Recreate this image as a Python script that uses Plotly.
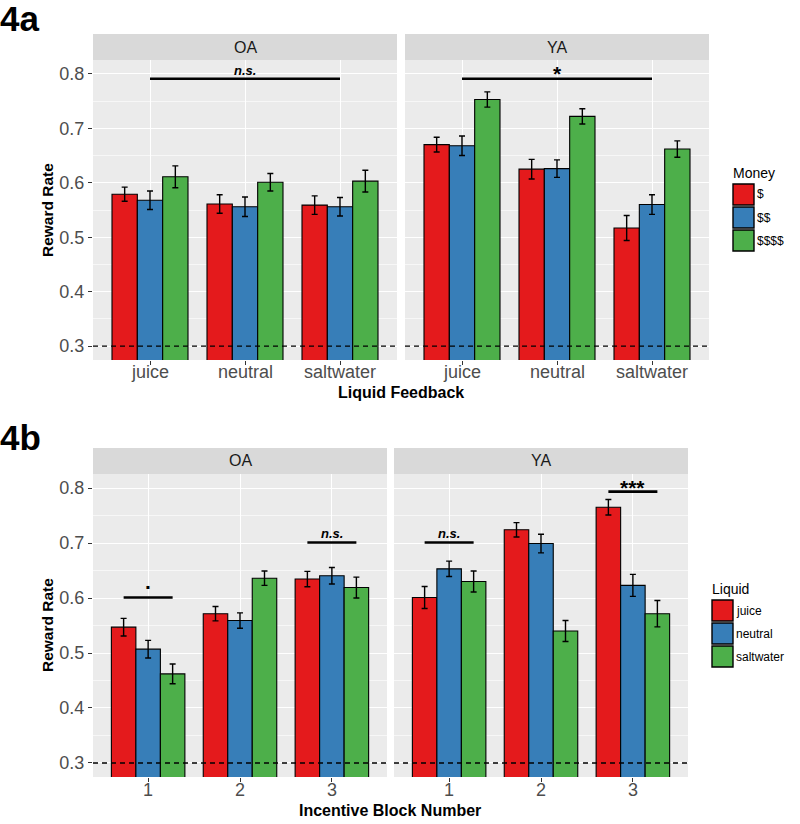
import plotly.graph_objects as go

# ---------------- data ----------------
liquids = ["juice", "neutral", "saltwater"]
money_levels = ["$", "$$", "$$$$"]
blocks = ["1", "2", "3"]
groups = ["OA", "YA"]

# 4a: reward rate by liquid feedback (x) and money (series)
a_OA_mean = {"$": [0.579, 0.561, 0.559], "$$": [0.568, 0.556, 0.556], "$$$$": [0.611, 0.601, 0.603]}
a_OA_se = {"$": [0.013, 0.017, 0.017], "$$": [0.017, 0.018, 0.017], "$$$$": [0.020, 0.016, 0.020]}
a_YA_mean = {"$": [0.670, 0.625, 0.517], "$$": [0.668, 0.626, 0.560], "$$$$": [0.753, 0.722, 0.662]}
a_YA_se = {"$": [0.0135, 0.018, 0.023], "$$": [0.018, 0.016, 0.018], "$$$$": [0.014, 0.014, 0.015]}

# 4b: reward rate by incentive block (x) and liquid (series)
b_OA_mean = {"juice": [0.547, 0.5715, 0.6345], "neutral": [0.507, 0.559, 0.6406], "saltwater": [0.462, 0.636, 0.619]}
b_OA_se = {"juice": [0.016, 0.013, 0.014], "neutral": [0.016, 0.014, 0.015], "saltwater": [0.018, 0.013, 0.019]}
b_YA_mean = {"juice": [0.601, 0.724, 0.765], "neutral": [0.653, 0.699, 0.623], "saltwater": [0.630, 0.540, 0.5715]}
b_YA_se = {"juice": [0.020, 0.013, 0.014], "neutral": [0.014, 0.017, 0.020], "saltwater": [0.019, 0.019, 0.024]}

chance_level = 0.3
y_ticks = [0.3, 0.4, 0.5, 0.6, 0.7, 0.8]

# significance brackets 4a: (group, x-from, x-to, line height, label, label height)
sig_a = [("OA", 0, 2, 0.791, "n.s.", 0.8055), ("YA", 0, 2, 0.791, "*", 0.800)]
# significance brackets 4b: (group, block index, line height, label, label height)
sig_b = [("OA", 0, 0.601, ".", 0.630), ("OA", 2, 0.701, "n.s.", 0.717),
         ("YA", 0, 0.701, "n.s.", 0.717), ("YA", 2, 0.7935, "***", 0.801)]

colors = ["#E41A1C", "#377EB8", "#4DAF4A"]

# ---------------- layout helpers ----------------
W, H = 800, 824
FONT = "Liberation Sans, Arial, Helvetica, sans-serif"


def px_x(p):
    return p / W


def px_y(p):
    return 1 - p / H


panels = {
    # name: (x0, x1, ytop, ybottom, striptop, ticklabel centre y)
    "aOA": (93, 397, 60, 360, 34, 372),
    "aYA": (405, 709, 60, 360, 34, 372),
    "bOA": (93, 387, 474, 777, 448, 790),
    "bYA": (394, 688, 474, 777, 448, 790),
}
axis_ids = {"aOA": "", "aYA": "2", "bOA": "3", "bYA": "4"}

fig = go.Figure()
layout = dict(
    width=W, height=H, margin=dict(l=0, r=0, t=0, b=0),
    paper_bgcolor="white", plot_bgcolor="#EBEBEB",
    barmode="group", bargap=0.2, bargroupgap=0,
    showlegend=False, font=dict(family=FONT, color="#4D4D4D"),
)
shapes = []
annotations = []

datasets = {
    "aOA": (liquids, money_levels, a_OA_mean, a_OA_se),
    "aYA": (liquids, money_levels, a_YA_mean, a_YA_se),
    "bOA": (blocks, liquids, b_OA_mean, b_OA_se),
    "bYA": (blocks, liquids, b_YA_mean, b_YA_se),
}

for name, (x0, x1, yt, yb, st, tly) in panels.items():
    aid = axis_ids[name]
    xa, ya = "x" + aid, "y" + aid
    cats, series, means, ses = datasets[name]
    for i, s in enumerate(series):
        fig.add_trace(go.Bar(
            x=cats, y=means[s], name=s, xaxis=xa, yaxis=ya,
            marker=dict(color=colors[i], line=dict(color="black", width=1.1)),
            error_y=dict(type="data", array=ses[s], color="black", thickness=1.4, width=3),
        ))
    left = name.endswith("OA")
    layout["xaxis" + aid] = dict(
        domain=[px_x(x0), px_x(x1)], anchor=ya, type="category",
        range=[-0.6, 2.6], showgrid=True, gridcolor="white", gridwidth=1.2,
        ticks="outside", ticklen=4, tickcolor="#333333", tickwidth=1,
        showticklabels=False, showline=False, zeroline=False,
    )
    # category tick labels
    for k, c in enumerate(cats):
        annotations.append(dict(text=c, xref=xa, yref="paper", x=k, y=px_y(tly),
                                xanchor="center", yanchor="middle", showarrow=False,
                                font=dict(size=18, color="#4D4D4D", family=FONT)))
    layout["yaxis" + aid] = dict(
        domain=[px_y(yb), px_y(yt)], anchor=xa, range=[0.2745, 0.8255],
        tickvals=y_ticks, ticktext=[f"{v:.1f}" for v in y_ticks],
        showticklabels=left, ticks="outside" if left else "", ticklen=4,
        tickcolor="#333333", tickwidth=1,
        tickfont=dict(size=18, color="#4D4D4D", family=FONT),
        showgrid=True, gridcolor="white", gridwidth=1.2, zeroline=False, showline=False,
        minor=dict(tickvals=[0.35, 0.45, 0.55, 0.65, 0.75], showgrid=True, gridcolor="#F7F7F7", gridwidth=0.6),
    )
    # strip
    shapes.append(dict(type="rect", xref="paper", yref="paper",
                       x0=px_x(x0), x1=px_x(x1), y0=px_y(yt), y1=px_y(st),
                       fillcolor="#D9D9D9", line=dict(width=0), layer="below"))
    annotations.append(dict(text=name[1:], xref="paper", yref="paper",
                            x=(px_x(x0) + px_x(x1)) / 2, y=(px_y(yt) + px_y(st)) / 2,
                            showarrow=False, font=dict(size=16, color="#1A1A1A", family=FONT),
                            xanchor="center", yanchor="middle"))
    # chance line
    shapes.append(dict(type="line", xref=xa + " domain", yref=ya, x0=0, x1=1,
                       y0=chance_level, y1=chance_level,
                       line=dict(color="black", width=1.4, dash="5px,4px")))


def sig_text(lab):
    if lab.startswith("n"):
        return "<b><i>%s</i></b>" % lab, 13
    return "<b>%s</b>" % lab, 21


# significance brackets 4a
for g, i0, i1, h, lab, th in sig_a:
    aid = axis_ids["a" + g]
    shapes.append(dict(type="line", xref="x" + aid, yref="y" + aid, x0=i0, x1=i1, y0=h, y1=h,
                       line=dict(color="black", width=2.6)))
    txt, fs = sig_text(lab)
    annotations.append(dict(text=txt, xref="x" + aid, yref="y" + aid, x=(i0 + i1) / 2, y=th,
                            showarrow=False, yanchor="middle",
                            font=dict(size=fs, color="black", family=FONT)))

# significance brackets 4b (from first to last bar centre within a block)
half = 0.8 / 3
for g, i, h, lab, th in sig_b:
    aid = axis_ids["b" + g]
    shapes.append(dict(type="line", xref="x" + aid, yref="y" + aid, x0=i - half, x1=i + half, y0=h, y1=h,
                       line=dict(color="black", width=2.6)))
    txt, fs = sig_text(lab)
    annotations.append(dict(text=txt, xref="x" + aid, yref="y" + aid, x=i, y=th,
                            showarrow=False, yanchor="middle",
                            font=dict(size=fs, color="black", family=FONT)))

# panel labels, axis titles
annotations += [
    dict(text="<b>4a</b>", xref="paper", yref="paper", x=px_x(-2), y=px_y(-3), xanchor="left", yanchor="top",
         showarrow=False, font=dict(size=35, color="black", family=FONT)),
    dict(text="<b>4b</b>", xref="paper", yref="paper", x=px_x(-2), y=px_y(416), xanchor="left", yanchor="top",
         showarrow=False, font=dict(size=35, color="black", family=FONT)),
    dict(text="<b>Reward Rate</b>", xref="paper", yref="paper", x=px_x(47), y=px_y(210), textangle=-90,
         showarrow=False, font=dict(size=15.5, color="black", family=FONT), xanchor="center", yanchor="middle"),
    dict(text="<b>Reward Rate</b>", xref="paper", yref="paper", x=px_x(47), y=px_y(625), textangle=-90,
         showarrow=False, font=dict(size=15.5, color="black", family=FONT), xanchor="center", yanchor="middle"),
    dict(text="<b>Liquid Feedback</b>", xref="paper", yref="paper", x=px_x(401), y=px_y(393),
         showarrow=False, font=dict(size=16, color="black", family=FONT), xanchor="center", yanchor="middle"),
    dict(text="<b>Incentive Block Number</b>", xref="paper", yref="paper", x=px_x(390), y=px_y(810),
         showarrow=False, font=dict(size=16, color="black", family=FONT), xanchor="center", yanchor="middle"),
]


# manual legends
def add_legend(title, labels, lx, ty):
    annotations.append(dict(text=title, xref="paper", yref="paper", x=px_x(lx - 2), y=px_y(ty),
                            xanchor="left", yanchor="middle", showarrow=False,
                            font=dict(size=14, color="black", family=FONT)))
    for k, lab in enumerate(labels):
        top = ty + 11 + k * 23
        shapes.append(dict(type="rect", xref="paper", yref="paper",
                           x0=px_x(lx), x1=px_x(lx + 21), y0=px_y(top + 21), y1=px_y(top),
                           fillcolor=colors[k], line=dict(color="black", width=1.4)))
        annotations.append(dict(text=lab, xref="paper", yref="paper", x=px_x(lx + 22), y=px_y(top + 10.5),
                                xanchor="left", yanchor="middle", showarrow=False,
                                font=dict(size=12, color="black", family=FONT)))


add_legend("Money", money_levels, 733, 173)
add_legend("Liquid", liquids, 712, 589)

layout["shapes"] = shapes
layout["annotations"] = annotations
fig.update_layout(**layout)
fig.write_html("out.html", config={"displayModeBar": False},
               post_script="document.body.style.margin='0px';")
